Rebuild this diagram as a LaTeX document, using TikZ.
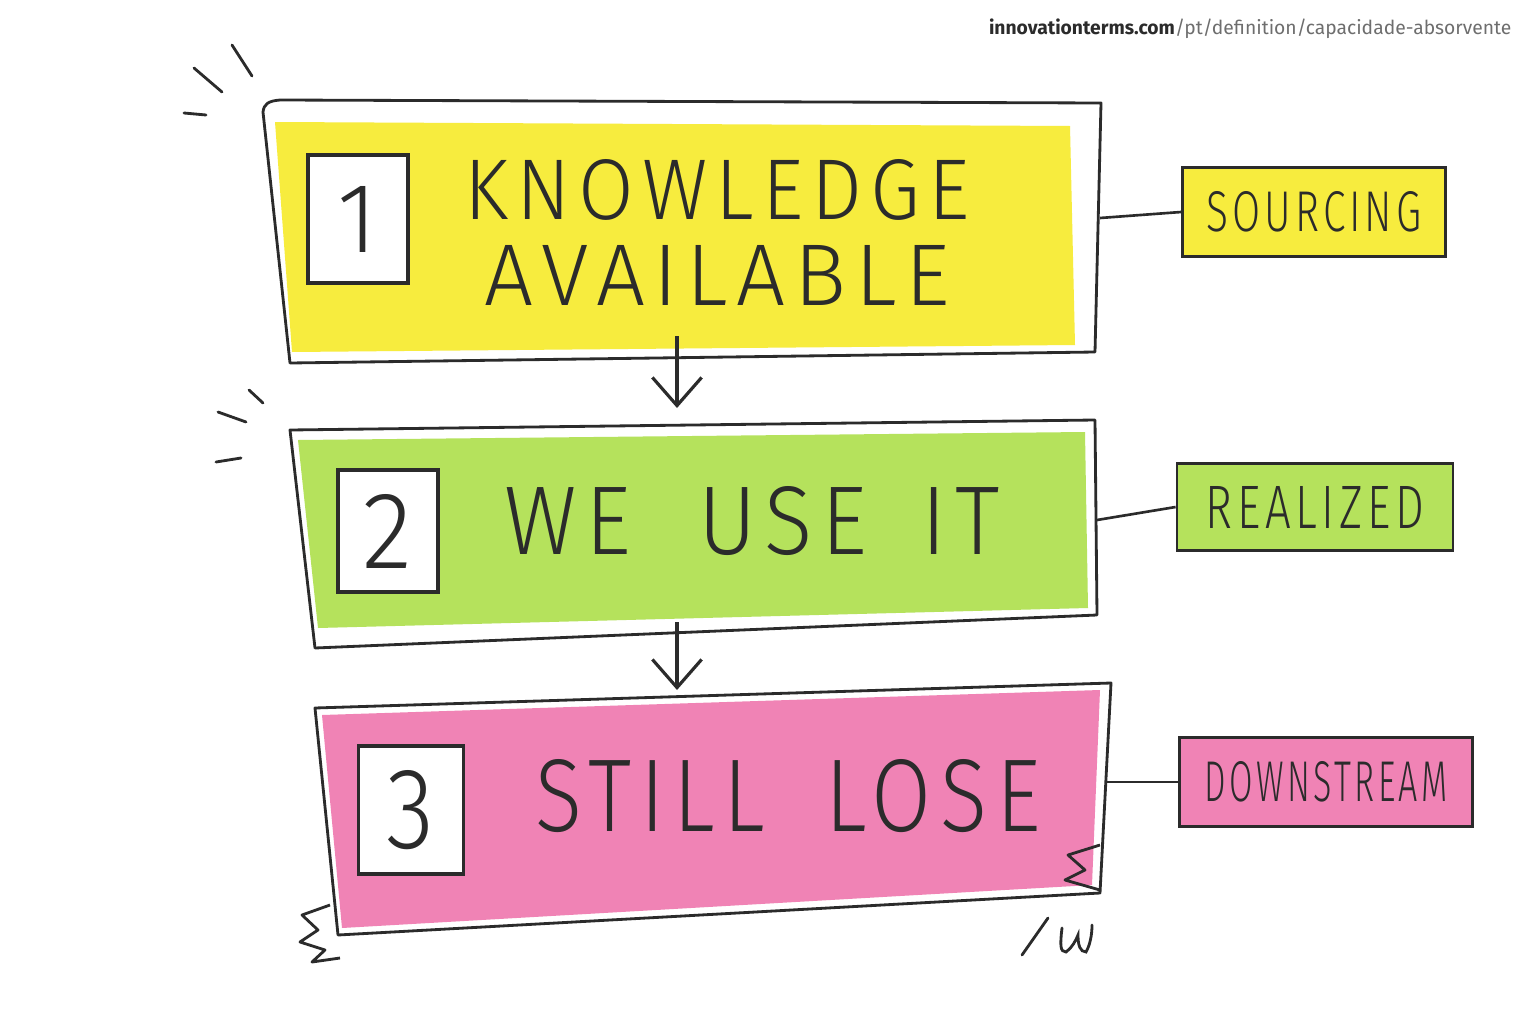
\documentclass[tikz,border=0pt]{standalone}
\usepackage{fontspec}
\usepackage{graphicx}
\setmainfont{Fira Sans}
\newfontfamily\handfont[LetterSpace=10]{Fira Sans Light}
\usetikzlibrary{arrows.meta}
\definecolor{ink}{HTML}{2B2B2B}
\definecolor{hy}{HTML}{F7EC3E}
\definecolor{hg}{HTML}{B5E25C}
\definecolor{hp}{HTML}{F083B5}
\definecolor{urlgray}{HTML}{6E6E6E}
\newcommand{\fitxt}[3]{\resizebox{#1}{#2}{\handfont\fontsize{20}{24}\selectfont #3}}
\tikzset{
  outline/.style={draw=ink, line width=0.8pt, line join=round},
  tag/.style={draw=ink, line width=0.75pt, inner sep=0pt, text=ink},
  numbox/.style={draw=ink, line width=0.9pt, fill=white, inner sep=0pt, text=ink},
  big/.style={inner sep=0pt, text=ink},
  link/.style={draw=ink, line width=0.75pt},
  flow/.style={draw=ink, line width=0.9pt, -{Straight Barb[length=8pt,width=14pt]}},
  tick/.style={draw=ink, line width=0.8pt, line cap=round}
}
\begin{document}
\begin{tikzpicture}[x=0.01cm,y=-0.01cm]
\useasboundingbox (0,0) rectangle (1536,1024);
\fill[white] (0,0) rectangle (1536,1024);
% URL
\node[anchor=north east, inner sep=0pt] (url) at (1512,18)
  {\resizebox{5.22cm}{!}{\fontsize{12}{14}\selectfont\textcolor{ink}{\textbf{innovationterms.com}}\textcolor{urlgray}{/pt/definition/capacidade-absorvente}}};

% ---------- Box 1 ----------
\coordinate (b1a) at (263,112); \coordinate (b1b) at (1101,103);
\coordinate (b1c) at (1095,352); \coordinate (b1d) at (290,363);
\fill[hy] (275,122) -- (1070,126) -- (1075,345) -- (292,352) -- cycle;
\draw[outline] (b1a) .. controls (264,104) and (268,101) .. (280,100) -- (b1b) -- (b1c) -- (b1d) -- cycle;
\node[numbox, minimum width=1.00cm, minimum height=1.28cm] (n1) at (358,219) {\fitxt{0.40cm}{0.66cm}{1}};
\node[big] (t1) at (717,190) {\fitxt{5.05cm}{0.6cm}{KNOWLEDGE}};
\node[big] (t1b) at (717,275) {\fitxt{4.65cm}{0.6cm}{AVAILABLE}};

% ---------- Box 2 ----------
\coordinate (b2a) at (290,430); \coordinate (b2b) at (1095,420);
\coordinate (b2c) at (1097,615); \coordinate (b2d) at (315,648);
\fill[hg] (298,440) -- (1085,432) -- (1088,608) -- (318,628) -- cycle;
\draw[outline] (b2a) -- (b2b) -- (b2c) -- (b2d) -- cycle;
\node[numbox, minimum width=1.00cm, minimum height=1.22cm] (n2) at (388,531) {\fitxt{0.5cm}{0.74cm}{2}};
\node[big] (t2) at (752,521) {\fitxt{4.95cm}{0.68cm}{WE\hspace{0.75em}USE\hspace{0.6em}IT}};

% ---------- Box 3 ----------
\coordinate (b3a) at (315,708); \coordinate (b3b) at (1111,683);
\coordinate (b3c) at (1100,893); \coordinate (b3d) at (338,935);
\fill[hp] (322,715) -- (1100,690) -- (1092,885) -- (342,928) -- cycle;
\draw[outline] (b3a) -- (b3b) -- (b3c) -- (b3d) -- cycle;
\node[numbox, minimum width=1.05cm, minimum height=1.28cm] (n3) at (411,810) {\fitxt{0.48cm}{0.78cm}{3}};
\node[big] (t3) at (788,796) {\fitxt{5.05cm}{0.72cm}{STILL\hspace{0.7em}LOSE}};
% zigzag tears
\draw[outline] (330,905) -- (302,915) -- (318,930) -- (300,942) -- (325,950) -- (312,962) -- (340,958);
\draw[outline] (1100,845) -- (1068,855) -- (1085,870) -- (1065,880) -- (1100,890);

% ---------- Flow arrows ----------
\coordinate (a1s) at (677,336); \coordinate (a1e) at (677,408);
\coordinate (a2s) at (677,622); \coordinate (a2e) at (677,690);
\draw[flow] (a1s) -- (a1e);
\draw[flow] (a2s) -- (a2e);

% ---------- Side tags ----------
\node[tag, fill=hy, minimum width=2.63cm, minimum height=0.89cm] (s1) at (1314,212) {\fitxt{2.15cm}{0.40cm}{SOURCING}};
\node[tag, fill=hg, minimum width=2.76cm, minimum height=0.87cm] (s2) at (1315,507) {\fitxt{2.18cm}{0.42cm}{REALIZED}};
\node[tag, fill=hp, minimum width=2.93cm, minimum height=0.89cm] (s3) at (1326,782) {\fitxt{2.43cm}{0.40cm}{DOWNSTREAM}};
\coordinate (c1) at (1100,218);
\coordinate (c2) at (1097,520);
\coordinate (c3) at (1107,782);
\draw[link] (c1) -- (s1.west);
\draw[link] (c2) -- (s2.west);
\draw[link] (c3) -- (s3.west);

% ---------- Emphasis ticks ----------
\draw[tick] (232,45) -- (252,76);
\draw[tick] (194,68) -- (222,92);
\draw[tick] (184,113) -- (206,115);
\draw[tick] (249,390) -- (263,403);
\draw[tick] (218,412) -- (246,422);
\draw[tick] (216,462) -- (241,458);

% signature
\draw[tick] (1048,918) -- (1022,955);
\draw[tick] (1062,928) .. controls (1060,945) and (1060,952) .. (1066,952) .. controls (1072,948) and (1076,940) .. (1078,935) .. controls (1078,945) and (1080,952) .. (1086,952) .. controls (1090,945) and (1092,935) .. (1092,925);
\end{tikzpicture}
\end{document}
